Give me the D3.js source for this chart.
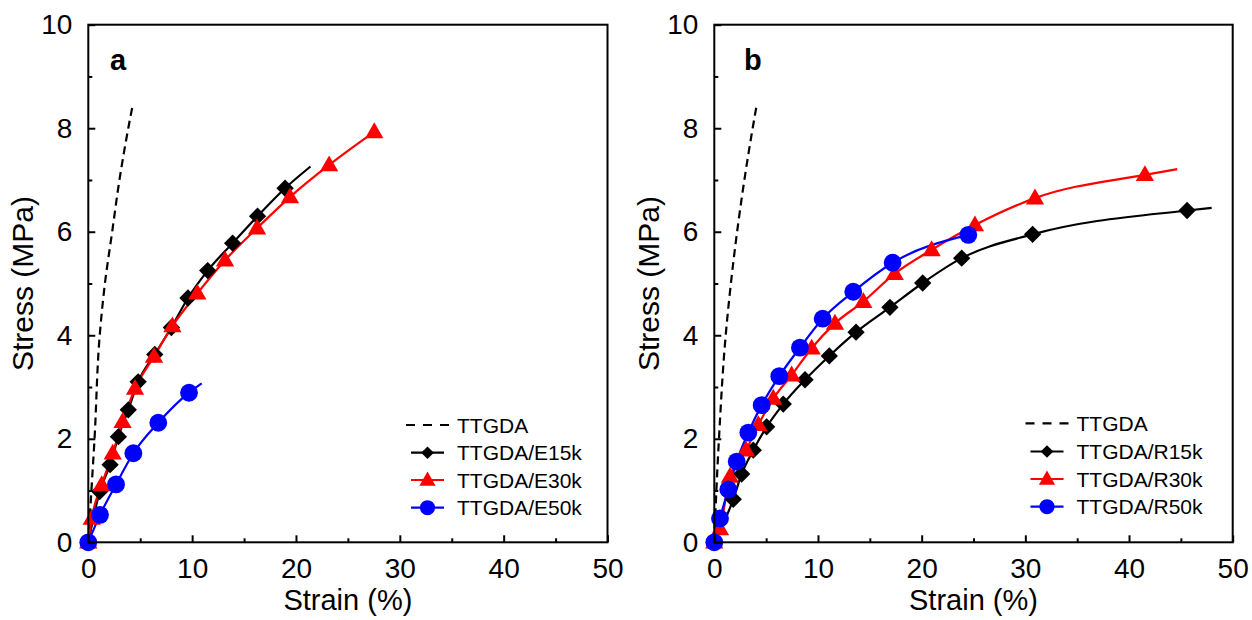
<!DOCTYPE html>
<html>
<head>
<meta charset="utf-8">
<script src="https://cdn.jsdelivr.net/npm/d3@7"></script>
<style>
  html, body { margin: 0; padding: 0; background: #fff; }
  svg { display: block; }
  text { font-family: Arial, "Liberation Sans", sans-serif; fill: #000; }
</style>
</head>
<body>
<svg id="chart" width="1252" height="620"></svg>
<script>
// ---- Panel a: neat resin and E-series blends ----
const neatAStrain = [0, 0.3, 0.6, 1.1, 1.6, 2.3, 3.0, 3.85, 4.28];
const neatAStress = [0, 1.0, 2.0, 4.0, 5.0, 6.0, 7.0, 8.0, 8.45];

const e15kStrain = [0, 1.1, 2.1, 2.9, 3.85, 4.8, 6.4, 8.0, 9.6, 11.5, 13.9, 16.3, 18.95];
const e15kStress = [0, 0.98, 1.5, 2.04, 2.56, 3.1, 3.63, 4.15, 4.72, 5.25, 5.78, 6.3, 6.84];
const e15kEnd = [21.4, 7.26];

const e30kStrain = [0, 0.33, 1.29, 2.35, 3.3, 4.5, 6.33, 8.1, 10.5, 13.17, 16.25, 19.42, 23.19, 27.54];
const e30kStress = [0, 0.46, 1.11, 1.72, 2.33, 2.97, 3.59, 4.18, 4.81, 5.45, 6.07, 6.67, 7.29, 7.93];

const e50kStrain = [0, 1.13, 2.67, 4.34, 6.74, 9.7];
const e50kStress = [0, 0.53, 1.12, 1.72, 2.31, 2.89];
const e50kEnd = [10.92, 3.07];

// ---- Panel b: neat resin and R-series blends ----
const neatBStrain = [0, 0.2, 0.45, 1.1, 1.6, 2.2, 2.9, 3.7, 4.09];
const neatBStress = [0, 1.0, 2.0, 4.0, 5.0, 6.0, 7.0, 8.0, 8.45];

const r15kStrain = [0, 1.83, 2.64, 3.76, 5.05, 6.65, 8.75, 11.09, 13.67, 16.94, 20.1, 23.86, 30.7, 45.6];
const r15kStress = [0, 0.83, 1.32, 1.78, 2.23, 2.67, 3.14, 3.6, 4.06, 4.54, 5.01, 5.49, 5.95, 6.41];
const r15kEnd = [47.97, 6.46];

const r30kStrain = [0, 0.55, 1.51, 3.06, 4.25, 5.69, 7.46, 9.39, 11.64, 14.37, 17.4, 20.96, 25.14, 30.93, 41.53];
const r30kStress = [0, 0.26, 1.27, 1.78, 2.27, 2.78, 3.23, 3.75, 4.23, 4.65, 5.19, 5.65, 6.13, 6.65, 7.1];
const r30kEnd = [44.65, 7.21];

const r50kStrain = [0, 0.55, 1.35, 2.16, 3.28, 4.57, 6.27, 8.26, 10.45, 13.4, 17.2, 24.5];
const r50kStress = [0, 0.46, 1.02, 1.56, 2.12, 2.65, 3.21, 3.76, 4.32, 4.84, 5.4, 5.94];

const xTicks = [0, 10, 20, 30, 40, 50];
const yTicks = [0, 2, 4, 6, 8, 10];
const xMinorTicks = [5, 15, 25, 35, 45];
const yMinorTicks = [1, 3, 5, 7, 9];

const legendA = ["TTGDA", "TTGDA/E15k", "TTGDA/E30k", "TTGDA/E50k"];
const legendB = ["TTGDA", "TTGDA/R15k", "TTGDA/R30k", "TTGDA/R50k"];

function zip(xs, ys) { return xs.map((x, i) => [x, ys[i]]); }

const panels = [
  {
    tag: "a", left: 88.3, right: 607.5, labelX: 110,
    legendX: 457, legendY: [425, 452.7, 480, 507.7], legendNames: legendA,
    neat: zip(neatAStrain, neatAStress),
    series: [
      { pts: zip(e15kStrain, e15kStress), end: e15kEnd, color: "#000", marker: "diamond" },
      { pts: zip(e30kStrain, e30kStress), end: null, color: "#f00", marker: "triangle" },
      { pts: zip(e50kStrain, e50kStress), end: e50kEnd, color: "#00f", marker: "circle" }
    ]
  },
  {
    tag: "b", left: 714.3, right: 1232.7, labelX: 744,
    legendX: 1076.5, legendY: [423.3, 451.5, 479, 506.7], legendNames: legendB,
    neat: zip(neatBStrain, neatBStress),
    series: [
      { pts: zip(r15kStrain, r15kStress), end: r15kEnd, color: "#000", marker: "diamond" },
      { pts: zip(r30kStrain, r30kStress), end: r30kEnd, color: "#f00", marker: "triangle" },
      { pts: zip(r50kStrain, r50kStress), end: null, color: "#00f", marker: "circle" }
    ]
  }
];

const plotTop = 24.7, plotBottom = 542.3;
const svg = d3.select("#chart");

const markerSymbols = {
  diamond: d3.symbol().type(d3.symbolSquare).size(150),
  triangle: d3.symbol().type(d3.symbolTriangle).size(145),
  circle: d3.symbol().type(d3.symbolCircle).size(250)
};
const legendSymbols = {
  diamond: d3.symbol().type(d3.symbolSquare).size(80),
  triangle: d3.symbol().type(d3.symbolTriangle).size(115),
  circle: d3.symbol().type(d3.symbolCircle).size(180)
};

function drawMarker(g, kind, x, y, color, gen) {
  const p = g.append("path")
    .attr("d", gen[kind]())
    .attr("fill", color);
  if (kind === "diamond") p.attr("transform", `translate(${x},${y}) rotate(45)`);
  else if (kind === "triangle") p.attr("transform", `translate(${x},${y + 1})`);
  else p.attr("transform", `translate(${x},${y})`);
}

panels.forEach(P => {
  const x = d3.scaleLinear().domain([0, 50]).range([P.left, P.right]);
  const y = d3.scaleLinear().domain([0, 10]).range([plotBottom, plotTop]);
  const g = svg.append("g");

  // data curves
  const line = d3.line().x(d => x(d[0])).y(d => y(d[1])).curve(d3.curveMonotoneX);
  const neatLine = d3.line().x(d => x(d[0])).y(d => y(d[1])).curve(d3.curveMonotoneY);

  g.append("path").datum(P.neat)
    .attr("d", neatLine)
    .attr("fill", "none").attr("stroke", "#000")
    .attr("stroke-width", 2.2).attr("stroke-dasharray", "8,5");

  P.series.forEach(s => {
    const pts = s.end ? s.pts.concat([s.end]) : s.pts;
    g.append("path").datum(pts)
      .attr("d", line)
      .attr("fill", "none").attr("stroke", s.color).attr("stroke-width", 2.2);
  });
  // markers drawn after all lines so each series keeps its layer order
  P.series.forEach(s => {
    const mg = g.append("g");
    s.pts.forEach(d => drawMarker(mg, s.marker, x(d[0]), y(d[1]), s.color, markerSymbols));
  });

  // frame
  g.append("rect")
    .attr("x", P.left).attr("y", plotTop)
    .attr("width", P.right - P.left).attr("height", plotBottom - plotTop)
    .attr("fill", "none").attr("stroke", "#000").attr("stroke-width", 2);

  // x axis (ticks inward)
  const xAxis = d3.axisBottom(x).tickValues(xTicks).tickSize(-7).tickPadding(15.5).tickFormat(d3.format("d"));
  const xa = g.append("g").attr("transform", `translate(0,${plotBottom})`).call(xAxis);
  xa.select(".domain").remove();
  xa.selectAll(".tick line").attr("stroke-width", 2);
  xa.selectAll(".tick text").attr("font-size", 28).attr("font-family", "Arial, 'Liberation Sans', sans-serif").attr("fill", "#000");
  const xm = d3.axisBottom(x).tickValues(xMinorTicks).tickSize(-4).tickFormat("");
  const xma = g.append("g").attr("transform", `translate(0,${plotBottom})`).call(xm);
  xma.select(".domain").remove();
  xma.selectAll(".tick line").attr("stroke-width", 2);

  // y axis (ticks inward)
  const yAxis = d3.axisLeft(y).tickValues(yTicks).tickSize(-7).tickPadding(16).tickFormat(d3.format("d"));
  const ya = g.append("g").attr("transform", `translate(${P.left},0)`).call(yAxis);
  ya.select(".domain").remove();
  ya.selectAll(".tick line").attr("stroke-width", 2);
  ya.selectAll(".tick text").attr("font-size", 28).attr("font-family", "Arial, 'Liberation Sans', sans-serif").attr("fill", "#000");
  const ym = d3.axisLeft(y).tickValues(yMinorTicks).tickSize(-4).tickFormat("");
  const yma = g.append("g").attr("transform", `translate(${P.left},0)`).call(ym);
  yma.select(".domain").remove();
  yma.selectAll(".tick line").attr("stroke-width", 2);

  // axis titles
  g.append("text")
    .attr("x", (P.left + P.right) / 2).attr("y", 610)
    .attr("text-anchor", "middle").attr("font-size", 29)
    .text("Strain (%)");
  g.append("text")
    .attr("transform", `translate(${P.left - 55},${(plotTop + plotBottom) / 2}) rotate(-90)`)
    .attr("text-anchor", "middle").attr("font-size", 30)
    .text("Stress (MPa)");

  // panel tag
  g.append("text")
    .attr("x", P.labelX).attr("y", 70)
    .attr("font-size", 29).attr("font-weight", "bold")
    .text(P.tag);

  // legend
  const lg = g.append("g");
  P.legendNames.forEach((name, i) => {
    const ly = P.legendY[i];
    if (i === 0) {
      lg.append("line")
        .attr("x1", P.legendX - 51).attr("x2", P.legendX - 7)
        .attr("y1", ly).attr("y2", ly)
        .attr("stroke", "#000").attr("stroke-width", 2.2).attr("stroke-dasharray", "9,8");
    } else {
      const s = P.series[i - 1];
      lg.append("line")
        .attr("x1", P.legendX - 46).attr("x2", P.legendX - 13)
        .attr("y1", ly).attr("y2", ly)
        .attr("stroke", s.color).attr("stroke-width", 2.2);
      drawMarker(lg, s.marker, P.legendX - 29.5, ly, s.color, legendSymbols);
    }
    lg.append("text")
      .attr("x", P.legendX).attr("y", ly)
      .attr("dy", "0.36em").attr("font-size", 21)
      .text(name);
  });
});
</script>
</body>
</html>
